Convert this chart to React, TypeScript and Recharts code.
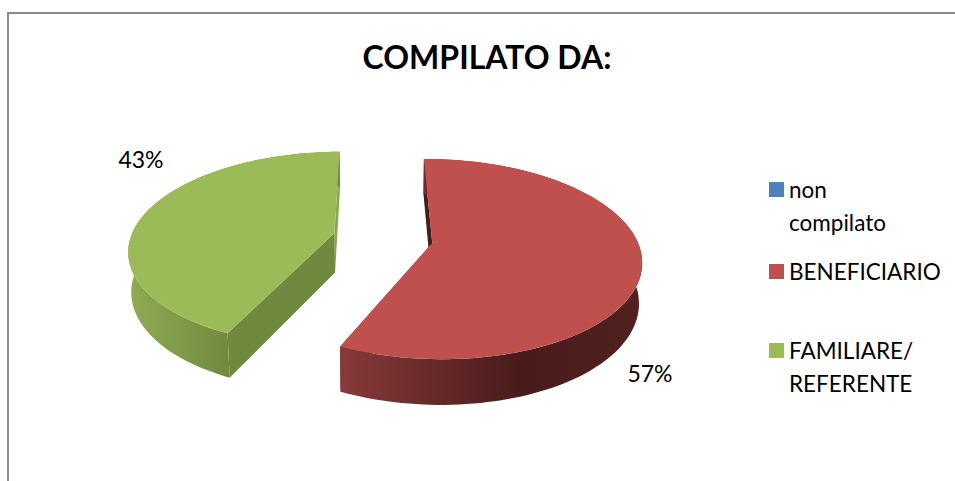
import React from 'react';
import { PieChart, Pie, Cell, Legend } from 'recharts';

const categories = ['non\ncompilato', 'BENEFICIARIO', 'FAMILIARE/\nREFERENTE'];
const shares = [0, 57, 43];
const colors = ['#4F81BD', '#C0504D', '#9BBB59'];
const sideDark = ['#385D8A', '#4A1B1B', '#71893F'];
const sideLight = ['#4F81BD', '#873A39', '#8EAB52'];

const data = categories.map((name, i) => ({ name, value: shares[i] }));

// fake 3D: disk seen from above, far side a bit smaller than near side
const TILT = 0.47;
const PERSP = 0.16;
const DEPTH = 40;
const SHRINK = 0.012;
const EXPLODE = 0.245;

function project(cx: number, cy: number, r: number, u: number, v: number, z: number) {
    const w = 1 + PERSP * v + SHRINK * z;
    return {
        x: cx + (r * u) / w,
        y: cy + (-r * TILT * v + DEPTH * z) / w,
    };
}

function toPath(pts: { x: number; y: number }[]) {
    return pts.map((p, i) => `${i ? 'L' : 'M'}${p.x.toFixed(1)} ${p.y.toFixed(1)}`).join(' ') + ' Z';
}

function Slice3D(props: any) {
    const { cx, cy, outerRadius, startAngle, endAngle, index } = props;
    if (Math.abs(endAngle - startAngle) < 0.01) return null;

    const mid = ((startAngle + endAngle) / 2) * (Math.PI / 180);
    const u0 = EXPLODE * Math.cos(mid);
    const v0 = EXPLODE * Math.sin(mid);
    const P = (u: number, v: number, z: number) => project(cx, cy, outerRadius, u0 + u, v0 + v, z);

    const rim = (z: number) => {
        const out = [];
        const steps = 120;
        for (let i = 0; i <= steps; i++) {
            const a = (startAngle + ((endAngle - startAngle) * i) / steps) * (Math.PI / 180);
            out.push(P(Math.cos(a), Math.sin(a), z));
        }
        return out;
    };

    const top = rim(0);
    const bottom = rim(1);
    const apex0 = P(0, 0, 0);
    const apex1 = P(0, 0, 1);
    const gid = `wall-${index}`;
    const xs = bottom.map(p => p.x);

    return (
        <g>
            <defs>
                {index === 1 ? (
                    <linearGradient id={gid} gradientUnits="userSpaceOnUse" x1={Math.min(...xs)} x2={Math.max(...xs)} y1={0} y2={0}>
                        <stop offset="0" stopColor={sideLight[index]} />
                        <stop offset="0.6" stopColor={sideDark[index]} />
                        <stop offset="1" stopColor="#51211F" />
                    </linearGradient>
                ) : (
                    <linearGradient id={gid} gradientUnits="userSpaceOnUse" x1={Math.min(...xs)} x2={apex0.x - 105} y1={0} y2={0}>
                        <stop offset="0" stopColor={sideLight[index]} />
                        <stop offset="1" stopColor={sideDark[index]} />
                    </linearGradient>
                )}
            </defs>
            <path d={toPath([apex0, top[top.length - 1], bottom[bottom.length - 1], apex1])} fill={index === 2 ? '#8AA74F' : sideDark[index]} />
            <path d={toPath([apex0, top[0], bottom[0], apex1])} fill={sideDark[index]} />
            <path d={toPath([...top, ...bottom.slice().reverse()])} fill={`url(#${gid})`} />
            <path d={toPath([apex0, ...top])} fill={colors[index]} />
        </g>
    );
}

const labelSpots: Record<string, { x: number; y: number }> = {
    BENEFICIARIO: { x: 650, y: 373 },
    'FAMILIARE/\nREFERENTE': { x: 141, y: 159 },
};

function PercentLabel(props: any) {
    const { name, percent } = props;
    const spot = labelSpots[name];
    if (!spot) return null;
    return (
        <text x={spot.x} y={spot.y} textAnchor="middle" dominantBaseline="central" fontSize={23} fontFamily="Lato" fill="#000">
            {`${Math.round(percent * 100)}%`}
        </text>
    );
}

function LegendBlock({ payload }: any) {
    return (
        <div style={{ fontFamily: 'Lato', fontSize: 22.5, lineHeight: '33px', color: '#000' }}>
            {(payload || []).map((entry: any, i: number) => (
                <div key={i} style={{ height: i === 0 ? 82 : 79, position: 'relative', paddingLeft: 20, whiteSpace: 'pre-line' }}>
                    <span style={{ position: 'absolute', left: 0, top: 9, width: 15, height: 15, background: colors[i] }} />
                    {entry.value}
                </div>
            ))}
        </div>
    );
}

export default function App() {
    return (
        <div style={{ position: 'absolute', left: 0, top: 0, width: 955, height: 481, overflow: 'hidden', background: '#fff' }}>
            <div style={{ position: 'absolute', left: 7, top: 12, width: 1100, height: 700, border: '2px solid #8A8A8A' }} />
            <div style={{ position: 'absolute', left: 0, top: 37, width: 974, textAlign: 'center', fontFamily: 'Lato', fontWeight: 700, fontSize: 32, color: '#000' }}>
                COMPILATO DA:
            </div>
            <PieChart width={955} height={481} style={{ position: 'absolute', left: 0, top: 0 }}>
                <Pie
                    data={data}
                    dataKey="value"
                    nameKey="name"
                    cx={378}
                    cy={233}
                    outerRadius={204}
                    startAngle={90.5}
                    endAngle={-269.5}
                    stroke="none"
                    labelLine={false}
                    label={PercentLabel}
                    shape={Slice3D}
                    isAnimationActive={false}
                >
                    {data.map((d, i) => (
                        <Cell key={d.name} fill={colors[i]} />
                    ))}
                </Pie>
                <Legend
                    layout="vertical"
                    content={LegendBlock}
                    itemSorter={null}
                    wrapperStyle={{ position: 'absolute', left: 769, top: 173, width: 186, bottom: 'auto' }}
                />
            </PieChart>
        </div>
    );
}
